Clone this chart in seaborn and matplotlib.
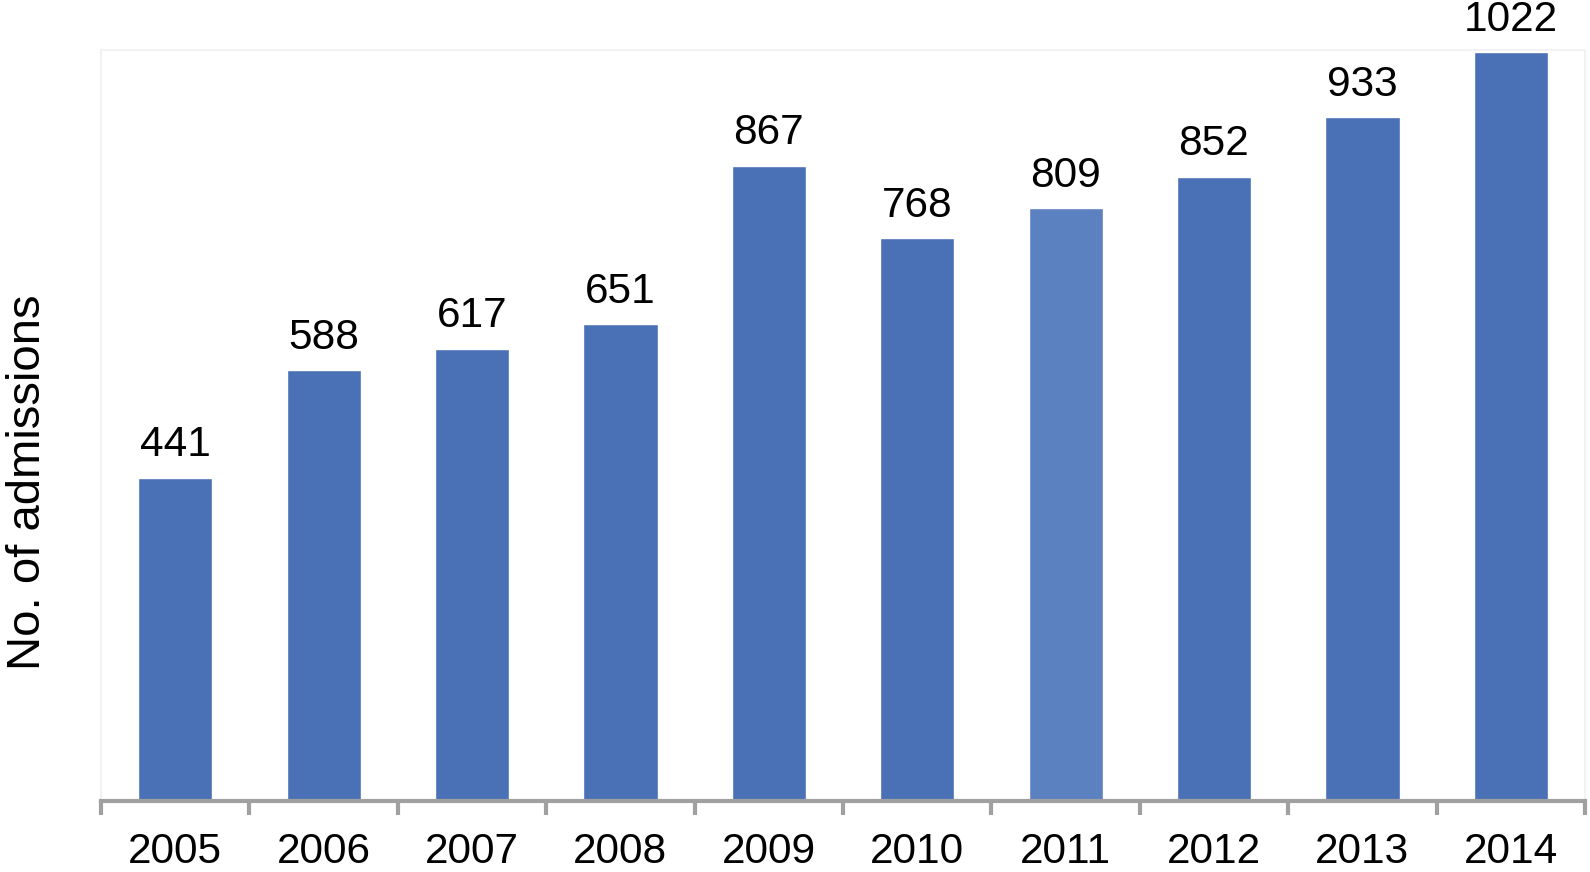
import matplotlib
matplotlib.use('Agg')
import matplotlib.pyplot as plt
import seaborn as sns
import numpy as np

years = ['2005', '2006', '2007', '2008', '2009', '2010', '2011', '2012', '2013', '2014']
admissions = [441, 588, 617, 651, 867, 768, 809, 852, 933, 1022]
bar_colors = ['#4A71B5'] * 6 + ['#5B81C1'] + ['#4A71B5'] * 3

sns.set_theme(style='white')
plt.rcParams['font.family'] = ['Liberation Sans', 'DejaVu Sans']

fig = plt.figure(figsize=(15.9, 8.72), dpi=100)
ax = fig.add_axes([101 / 1590, 1 - 801 / 872, (1585 - 101) / 1590, (801 - 50) / 872])

sns.barplot(x=years, y=admissions, hue=years, palette=bar_colors, legend=False,
            width=0.5, saturation=1, ax=ax)

for i, v in enumerate(admissions):
    ax.annotate(str(v), (i, v), xytext=(0, 9), textcoords='offset points',
                ha='center', va='bottom', fontsize=30.5, color='black')

ax.set_xlim(-0.5, len(years) - 0.5)
ax.set_ylim(0, 1025)
ax.set_yticks([])
ax.set_xlabel('')
ax.set_ylabel('')

# ticks between categories, labels under bars
ax.set_xticks(np.arange(len(years)))
ax.set_xticklabels(years, fontsize=30.5, color='black')
ax.set_xticks(np.arange(len(years) + 1) - 0.5, minor=True)
ax.tick_params(axis='x', which='major', length=0, pad=22)
ax.tick_params(axis='x', which='minor', length=10, width=3, color='#A0A0A0', direction='out', bottom=True)

for side in ['left', 'top', 'right']:
    ax.spines[side].set_color('#F2F2F2')
    ax.spines[side].set_linewidth(1.5)
ax.spines['bottom'].set_color('#A0A0A0')
ax.spines['bottom'].set_linewidth(3)

fig.text(28 / 1590, 1 - 482 / 872, 'No. of admissions', rotation=90, fontsize=34,
         ha='center', va='center', color='black')

fig.savefig('out.png', dpi=100)
